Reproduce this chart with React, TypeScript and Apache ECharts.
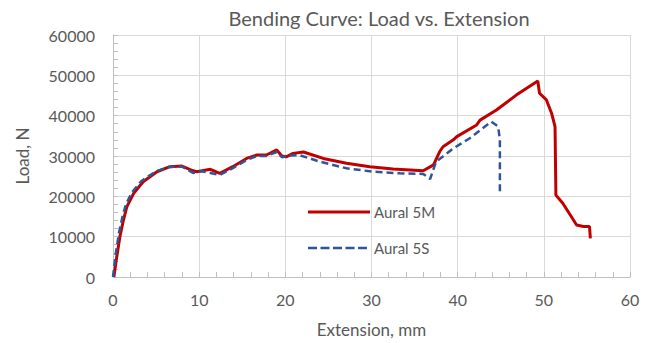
import React, { useEffect, useRef } from "react";
import * as echarts from "echarts";

const titleText = "Bending Curve: Load vs. Extension";
const xAxisName = "Extension, mm";
const yAxisName = "Load, N";

const seriesMName = "Aural 5M";
const seriesMx = [0.1, 0.4, 0.8, 1.2, 1.6, 2.4, 3.5, 5.1, 6.6, 8.0, 9.1, 9.7, 10.5, 11.3, 12.4, 13.9, 15.5, 16.7, 17.8, 19.0, 19.6, 20.1, 20.9, 22.1, 24.4, 27.1, 29.8, 32.5, 36.0, 37.2, 37.9, 38.3, 39.5, 39.9, 42.2, 42.6, 44.5, 46.8, 49.3, 49.5, 50.3, 50.9, 51.3, 51.4, 52.2, 53.2, 53.8, 54.6, 55.3, 55.4];
const seriesMy = [0, 4500, 10000, 14000, 17400, 20750, 23600, 26100, 27350, 27500, 26500, 26100, 26400, 26700, 25700, 27350, 29400, 30250, 30250, 31500, 30000, 29800, 30650, 31000, 29400, 28200, 27350, 26800, 26350, 27800, 31050, 32300, 34000, 34800, 37700, 38900, 41400, 45100, 48600, 45550, 43900, 40600, 37300, 20300, 18300, 14950, 12900, 12500, 12500, 9600];

const seriesSName = "Aural 5S";
const seriesSx = [0, 0.3, 0.7, 1.1, 1.5, 2.2, 3.3, 5.0, 6.5, 8.0, 9.3, 10.3, 11.3, 12.4, 13.9, 15.5, 16.7, 17.8, 19.0, 19.6, 20.3, 21.6, 24.0, 27.1, 30.2, 33.3, 36.0, 36.8, 37.5, 39.5, 41.4, 43.9, 44.7, 44.9, 44.9];
const seriesSy = [0, 5500, 11000, 15000, 18000, 21000, 23800, 26200, 27300, 27400, 25800, 26200, 25800, 25300, 27000, 29000, 30000, 30000, 31000, 29700, 30100, 30250, 28600, 26950, 26100, 25700, 25550, 24300, 28600, 31900, 34400, 38500, 37300, 34000, 20750];

const FONT = "Lato";
const TEXT = "#595959";
const AXIS = "#bfbfbf";
const GRID = "#d9d9d9";
const RED = "#c00000";
const BLUE = "#2f5597";

export default function App() {
  const ref = useRef<HTMLDivElement>(null);
  useEffect(() => {
    if (!ref.current) return;
    const chart = echarts.init(ref.current, undefined, { renderer: "svg" });
    const mData = seriesMx.map((x, i) => [x, seriesMy[i]]);
    const sData = seriesSx.map((x, i) => [x, seriesSy[i]]);
    chart.setOption({
      animation: false,
      backgroundColor: "#ffffff",
      textStyle: { fontFamily: FONT },
      grid: { left: 113, right: 19, top: 35, bottom: 66 },
      legend: { show: false },
      graphic: [
        {
          type: "text",
          x: 379,
          y: 18,
          style: {
            text: titleText,
            fontFamily: FONT,
            fontSize: 20,
            fill: TEXT,
            textAlign: "center",
            textVerticalAlign: "middle",
          },
        },
        {
          type: "line",
          shape: { x1: 308, y1: 212, x2: 370, y2: 212 },
          style: { stroke: RED, lineWidth: 3 },
        },
        {
          type: "text",
          x: 374,
          y: 212,
          style: { text: seriesMName, fontFamily: FONT, fontSize: 15, fill: TEXT, textVerticalAlign: "middle" },
        },
        {
          type: "line",
          shape: { x1: 308, y1: 248, x2: 370, y2: 248 },
          style: { stroke: BLUE, lineWidth: 2.5, lineDash: [9, 3.5] },
        },
        {
          type: "text",
          x: 374,
          y: 248,
          style: { text: seriesSName, fontFamily: FONT, fontSize: 15, fill: TEXT, textVerticalAlign: "middle" },
        },
      ],
      xAxis: {
        type: "value",
        min: 0,
        max: 60,
        interval: 10,
        name: xAxisName,
        nameLocation: "middle",
        nameGap: 44,
        nameTextStyle: { color: TEXT, fontFamily: FONT, fontSize: 17 },
        axisLine: { show: true, lineStyle: { color: AXIS, width: 1 } },
        axisTick: { show: true, inside: true, length: 5, lineStyle: { color: AXIS } },
        minorTick: { show: true, splitNumber: 5, length: 5, lineStyle: { color: AXIS } },
        axisLabel: { color: TEXT, fontFamily: FONT, fontSize: 16, margin: 14 },
        splitLine: { show: true, lineStyle: { color: GRID, width: 1 } },
      },
      yAxis: {
        type: "value",
        min: 0,
        max: 60000,
        interval: 10000,
        name: yAxisName,
        nameLocation: "middle",
        nameRotate: 90,
        nameGap: 82,
        nameTextStyle: { color: TEXT, fontFamily: FONT, fontSize: 17 },
        axisLine: { show: true, lineStyle: { color: AXIS, width: 1 } },
        axisTick: { show: true, inside: true, length: 5, lineStyle: { color: AXIS } },
        minorTick: { show: true, splitNumber: 5, length: 5, lineStyle: { color: AXIS } },
        axisLabel: {
          color: TEXT,
          fontFamily: FONT,
          fontSize: 16,
          margin: 18,
          formatter: (v: number) => String(v),
        },
        splitLine: { show: true, lineStyle: { color: GRID, width: 1 } },
      },
      series: [
        {
          name: seriesMName,
          type: "line",
          data: mData,
          showSymbol: false,
          symbol: "none",
          z: 3,
          itemStyle: { color: RED },
          lineStyle: { color: RED, width: 3 },
        },
        {
          name: seriesSName,
          type: "line",
          data: sData,
          showSymbol: false,
          symbol: "none",
          z: 4,
          itemStyle: { color: BLUE },
          lineStyle: { color: BLUE, width: 2.5, type: [7, 4] },
        },
      ],
    });
    return () => chart.dispose();
  }, []);
  return (
    <div
      ref={ref}
      style={{ position: "fixed", left: 0, top: 0, width: 649, height: 343, background: "#fff" }}
    />
  );
}
